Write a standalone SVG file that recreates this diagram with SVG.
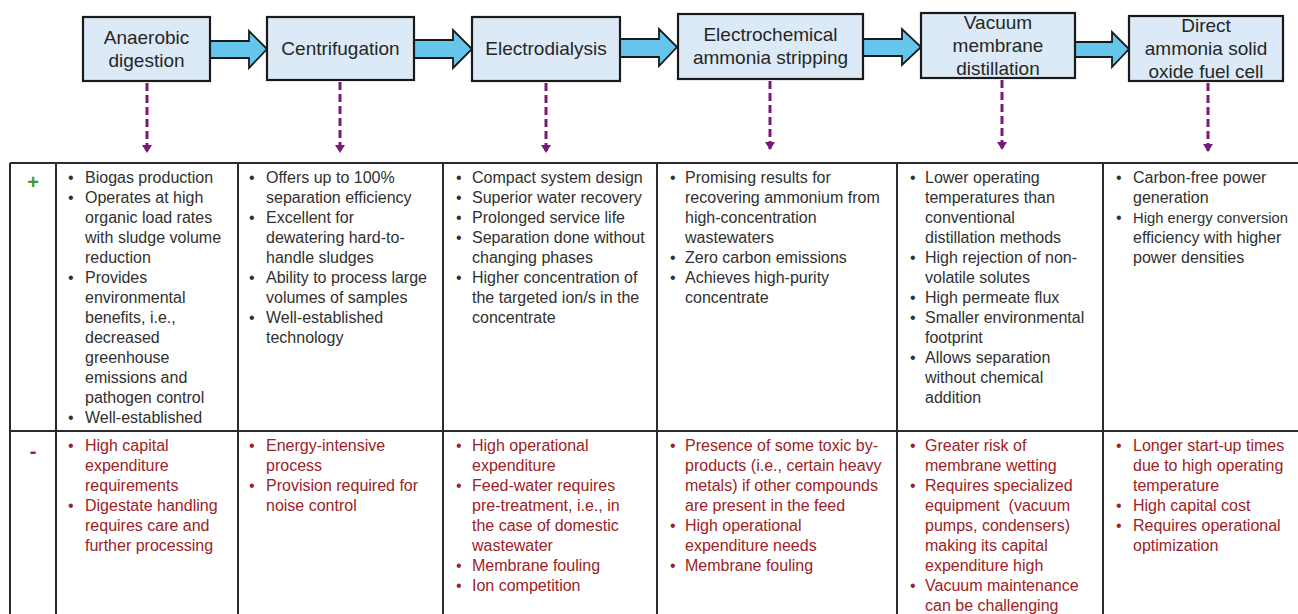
<svg xmlns="http://www.w3.org/2000/svg" width="1298" height="614" viewBox="0 0 1298 614">
<defs>
<style>
.box{fill:#DCEAF7;stroke:#1a1a1a;stroke-width:2.2}
.blk{fill:#66C5EA;stroke:#1a1a1a;stroke-width:1.8;stroke-linejoin:miter}
.bt{font-family:"Liberation Sans",Arial,sans-serif;font-size:19px;fill:#262626;text-anchor:middle}
.dash{stroke:#7A1A76;stroke-width:3;stroke-dasharray:8,4;fill:none}
.grid{stroke:#2b2b2b;stroke-width:2;fill:none}
.t{font-family:"Liberation Sans",Arial,sans-serif;font-size:16px;fill:#303030}
.r{font-family:"Liberation Sans",Arial,sans-serif;font-size:16px;fill:#9B2226}
</style>
<marker id="ah" markerUnits="userSpaceOnUse" markerWidth="10" markerHeight="10" refX="8" refY="5" orient="auto" viewBox="0 0 10 10">
<path d="M0,0 L8,5 L0,10 Z" fill="#7A1A76"/>
</marker>
</defs>
<rect width="1298" height="614" fill="#ffffff"/>

<g id="flow-arrows">
<path class="blk" d="M210,41 H249 V31 L267,49 L249,68 V58 H210 Z"/>
<path class="blk" d="M414,40 H453 V30 L472,49 L453,68 V58 H414 Z"/>
<path class="blk" d="M620,39 H659 V29 L677,47 L659,66 V57 H620 Z"/>
<path class="blk" d="M863,39 H902 V29 L921,47 L902,65 V56 H863 Z"/>
<path class="blk" d="M1075,42 H1112 V32 L1129,49 L1112,67 V57 H1075 Z"/>
</g>

<g id="node-anaerobic">
<rect class="box" x="83" y="17" width="127" height="64"/>
<text class="bt" x="146.5" y="44">Anaerobic</text>
<text class="bt" x="146.5" y="67">digestion</text>
</g>
<g id="node-centrifugation">
<rect class="box" x="267" y="17" width="147" height="63"/>
<text class="bt" x="340.5" y="55">Centrifugation</text>
</g>
<g id="node-electrodialysis">
<rect class="box" x="472" y="17" width="148" height="64"/>
<text class="bt" x="546" y="55">Electrodialysis</text>
</g>
<g id="node-eas">
<rect class="box" x="678" y="14" width="185" height="65"/>
<text class="bt" x="770.5" y="41">Electrochemical</text>
<text class="bt" x="770.5" y="64">ammonia stripping</text>
</g>
<g id="node-vmd">
<rect class="box" x="921" y="13" width="154" height="65"/>
<text class="bt" x="998" y="29">Vacuum</text>
<text class="bt" x="998" y="52">membrane</text>
<text class="bt" x="998" y="75">distillation</text>
</g>
<g id="node-dasofc">
<rect class="box" x="1129" y="16" width="154" height="65"/>
<text class="bt" x="1206" y="32">Direct</text>
<text class="bt" x="1206" y="55">ammonia solid</text>
<text class="bt" x="1206" y="78">oxide fuel cell</text>
</g>

<g id="connectors">
<line class="dash" x1="147" y1="83" x2="147" y2="153" marker-end="url(#ah)"/>
<line class="dash" x1="340" y1="82" x2="340" y2="153" marker-end="url(#ah)"/>
<line class="dash" x1="546" y1="83" x2="546" y2="153" marker-end="url(#ah)"/>
<line class="dash" x1="770" y1="81" x2="770" y2="150" marker-end="url(#ah)"/>
<line class="dash" x1="1002" y1="80" x2="1002" y2="150" marker-end="url(#ah)"/>
<line class="dash" x1="1208" y1="83" x2="1208" y2="152" marker-end="url(#ah)"/>
</g>

<g id="table">
<path class="grid" d="M10,163 H1300 M10,431 H1300 M10,163 V616 M56,163 V616 M238,163 V616 M443,163 V616 M657,163 V616 M897,163 V616 M1103,163 V616"/>
<text x="33" y="189" font-family="Liberation Sans,Arial,sans-serif" font-size="20" font-weight="bold" fill="#3A9A3A" text-anchor="middle">+</text>
<text x="33" y="458" font-family="Liberation Sans,Arial,sans-serif" font-size="20" font-weight="bold" fill="#9B2226" text-anchor="middle">-</text>
</g>

<g id="pros-anaerobic" class="t">
<text x="68" y="183">•</text><text x="85" y="183">Biogas production</text>
<text x="68" y="203">•</text><text x="85" y="203">Operates at high</text>
<text x="85" y="223">organic load rates</text>
<text x="85" y="243">with sludge volume</text>
<text x="85" y="263">reduction</text>
<text x="68" y="283">•</text><text x="85" y="283">Provides</text>
<text x="85" y="303">environmental</text>
<text x="85" y="323">benefits, i.e.,</text>
<text x="85" y="343">decreased</text>
<text x="85" y="363">greenhouse</text>
<text x="85" y="383">emissions and</text>
<text x="85" y="403">pathogen control</text>
<text x="68" y="423">•</text><text x="85" y="423">Well-established</text>
</g>
<g id="pros-centrifugation" class="t">
<text x="249" y="183">•</text><text x="266" y="183">Offers up to 100%</text>
<text x="266" y="203">separation efficiency</text>
<text x="249" y="223">•</text><text x="266" y="223">Excellent for</text>
<text x="266" y="243">dewatering hard-to-</text>
<text x="266" y="263">handle sludges</text>
<text x="249" y="283">•</text><text x="266" y="283">Ability to process large</text>
<text x="266" y="303">volumes of samples</text>
<text x="249" y="323">•</text><text x="266" y="323">Well-established</text>
<text x="266" y="343">technology</text>
</g>
<g id="pros-electrodialysis" class="t">
<text x="456" y="183">•</text><text x="472" y="183">Compact system design</text>
<text x="456" y="203">•</text><text x="472" y="203">Superior water recovery</text>
<text x="456" y="223">•</text><text x="472" y="223">Prolonged service life</text>
<text x="456" y="243">•</text><text x="472" y="243">Separation done without</text>
<text x="472" y="263">changing phases</text>
<text x="456" y="283">•</text><text x="472" y="283">Higher concentration of</text>
<text x="472" y="303">the targeted ion/s in the</text>
<text x="472" y="323">concentrate</text>
</g>
<g id="pros-eas" class="t">
<text x="670" y="183">•</text><text x="685" y="183">Promising results for</text>
<text x="685" y="203">recovering ammonium from</text>
<text x="685" y="223">high-concentration</text>
<text x="685" y="243">wastewaters</text>
<text x="670" y="263">•</text><text x="685" y="263">Zero carbon emissions</text>
<text x="670" y="283">•</text><text x="685" y="283">Achieves high-purity</text>
<text x="685" y="303">concentrate</text>
</g>
<g id="pros-vmd" class="t">
<text x="910" y="183">•</text><text x="925" y="183">Lower operating</text>
<text x="925" y="203">temperatures than</text>
<text x="925" y="223">conventional</text>
<text x="925" y="243">distillation methods</text>
<text x="910" y="263">•</text><text x="925" y="263">High rejection of non-</text>
<text x="925" y="283">volatile solutes</text>
<text x="910" y="303">•</text><text x="925" y="303">High permeate flux</text>
<text x="910" y="323">•</text><text x="925" y="323">Smaller environmental</text>
<text x="925" y="343">footprint</text>
<text x="910" y="363">•</text><text x="925" y="363">Allows separation</text>
<text x="925" y="383">without chemical</text>
<text x="925" y="403">addition</text>
</g>
<g id="pros-dasofc" class="t">
<text x="1116" y="183">•</text><text x="1133" y="183">Carbon-free power</text>
<text x="1133" y="203">generation</text>
<text x="1116" y="223">•</text><text x="1133" y="223" font-size="15" textLength="155" lengthAdjust="spacingAndGlyphs">High energy conversion</text>
<text x="1133" y="243">efficiency with higher</text>
<text x="1133" y="263">power densities</text>
</g>

<g id="cons-anaerobic" class="r">
<text x="68" y="451">•</text><text x="85" y="451">High capital</text>
<text x="85" y="471">expenditure</text>
<text x="85" y="491">requirements</text>
<text x="68" y="511">•</text><text x="85" y="511">Digestate handling</text>
<text x="85" y="531">requires care and</text>
<text x="85" y="551">further processing</text>
</g>
<g id="cons-centrifugation" class="r">
<text x="249" y="451">•</text><text x="266" y="451">Energy-intensive</text>
<text x="266" y="471">process</text>
<text x="249" y="491">•</text><text x="266" y="491">Provision required for</text>
<text x="266" y="511">noise control</text>
</g>
<g id="cons-electrodialysis" class="r">
<text x="456" y="451">•</text><text x="472" y="451">High operational</text>
<text x="472" y="471">expenditure</text>
<text x="456" y="491">•</text><text x="472" y="491">Feed-water requires</text>
<text x="472" y="511">pre-treatment, i.e., in</text>
<text x="472" y="531">the case of domestic</text>
<text x="472" y="551">wastewater</text>
<text x="456" y="571">•</text><text x="472" y="571">Membrane fouling</text>
<text x="456" y="591">•</text><text x="472" y="591">Ion competition</text>
</g>
<g id="cons-eas" class="r">
<text x="670" y="451">•</text><text x="685" y="451">Presence of some toxic by-</text>
<text x="685" y="471">products (i.e., certain heavy</text>
<text x="685" y="491">metals) if other compounds</text>
<text x="685" y="511">are present in the feed</text>
<text x="670" y="531">•</text><text x="685" y="531">High operational</text>
<text x="685" y="551">expenditure needs</text>
<text x="670" y="571">•</text><text x="685" y="571">Membrane fouling</text>
</g>
<g id="cons-vmd" class="r">
<text x="910" y="451">•</text><text x="925" y="451">Greater risk of</text>
<text x="925" y="471">membrane wetting</text>
<text x="910" y="491">•</text><text x="925" y="491">Requires specialized</text>
<text x="925" y="511" xml:space="preserve">equipment  (vacuum</text>
<text x="925" y="531">pumps, condensers)</text>
<text x="925" y="551">making its capital</text>
<text x="925" y="571">expenditure high</text>
<text x="910" y="591">•</text><text x="925" y="591">Vacuum maintenance</text>
<text x="925" y="611">can be challenging</text>
</g>
<g id="cons-dasofc" class="r">
<text x="1116" y="451">•</text><text x="1133" y="451">Longer start-up times</text>
<text x="1133" y="471">due to high operating</text>
<text x="1133" y="491">temperature</text>
<text x="1116" y="511">•</text><text x="1133" y="511">High capital cost</text>
<text x="1116" y="531">•</text><text x="1133" y="531">Requires operational</text>
<text x="1133" y="551">optimization</text>
</g>
</svg>
